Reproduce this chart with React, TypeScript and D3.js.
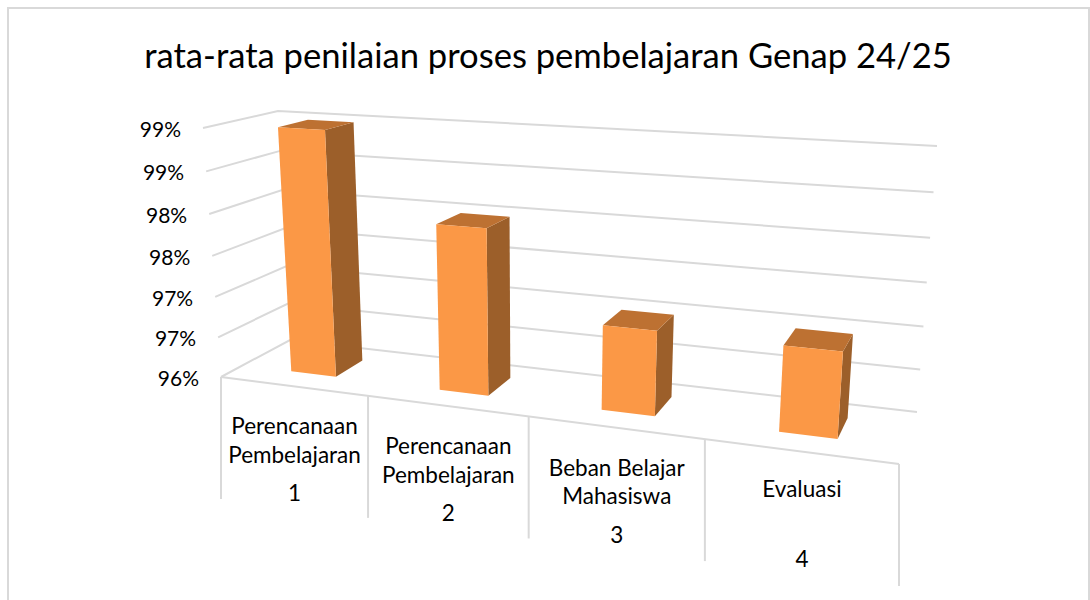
import React from 'react';
import * as d3 from 'd3';

const title = 'rata-rata penilaian proses pembelajaran Genap 24/25';
const categoryIds = ['1', '2', '3', '4'];
const categoryLines = [
  ['Perencanaan', 'Pembelajaran'],
  ['Perencanaan', 'Pembelajaran'],
  ['Beban Belajar', 'Mahasiswa'],
  ['Evaluasi'],
];
const values = [98.98, 97.98, 96.99, 96.97];
const tickValues = [96, 96.5, 97, 97.5, 98, 98.5, 99];
const tickLabels = ['96%', '97%', '97%', '98%', '98%', '99%', '99%'];

type Pt = [number, number];

// unit square -> quad, corners in order (0,0) (1,0) (1,1) (0,1)
function quadMap(p0: Pt, p1: Pt, p2: Pt, p3: Pt) {
  const sx = p0[0] - p1[0] + p2[0] - p3[0];
  const sy = p0[1] - p1[1] + p2[1] - p3[1];
  const dx1 = p1[0] - p2[0];
  const dy1 = p1[1] - p2[1];
  const dx2 = p3[0] - p2[0];
  const dy2 = p3[1] - p2[1];
  const den = dx1 * dy2 - dx2 * dy1;
  const g = (sx * dy2 - dx2 * sy) / den;
  const h = (dx1 * sy - sx * dy1) / den;
  const a = p1[0] - p0[0] + g * p1[0];
  const b = p3[0] - p0[0] + h * p3[0];
  const d = p1[1] - p0[1] + g * p1[1];
  const e = p3[1] - p0[1] + h * p3[1];
  return (u: number, v: number): Pt => {
    const w = g * u + h * v + 1;
    return [(a * u + b * v + p0[0]) / w, (d * u + e * v + p0[1]) / w];
  };
}

// the 3D box of the chart, floor and ceiling
const floorMap = quadMap([221, 377], [899, 464], [917, 412], [290, 340]);
const ceilMap = quadMap([203, 128], [921, 170.5], [937, 146], [278, 111]);

// height foreshortening, gridlines get wider apart towards the top
const heightWarp = 0.055;

// u along categories, v depth (0 front, 1 back), w height 0..1
const project = (u: number, v: number, w: number): Pt => {
  const f = floorMap(u, v);
  const c = ceilMap(u, v);
  const t = w / (1 + heightWarp * (1 - w));
  return [f[0] + (c[0] - f[0]) * t, f[1] + (c[1] - f[1]) * t];
};

const heightScale = d3.scaleLinear().domain([96, 99]).range([0, 1]);
const bandScale = d3
  .scaleBand<string>()
  .domain(categoryIds)
  .range([0, 1])
  .paddingInner(0.69)
  .paddingOuter(0.345);
const dividers = d3.range(categoryIds.length + 1).map((i) => i / categoryIds.length);

const depthFront = 0.3;
const depthBack = 0.72;
const dropLength = 122;

const line = d3.line<Pt>();
const poly = (pts: Pt[]) => line(pts) + 'Z';

const GRID = '#d9d9d9';
const FONT = 'Lato, Carlito, sans-serif';

export default function App() {
  return (
    <svg
      width={1090}
      height={600}
      style={{ position: 'absolute', left: 0, top: 0, background: '#fff' }}
    >
      <rect x={8} y={8} width={1081} height={620} fill="#fff" stroke={GRID} strokeWidth={2} />
      <text x={548} y={68} textAnchor="middle" fontFamily={FONT} fontSize={34.6} fill="#000">
        {title}
      </text>

      {tickValues.map((t, i) => {
        const w = heightScale(t);
        const a = project(0, 0, w);
        const b = project(0, 1, w);
        const c = project(1, 1, w);
        return (
          <g key={i}>
            <path d={line([a, b, c]) as string} fill="none" stroke={GRID} strokeWidth={2} />
            <text
              x={a[0] - 22}
              y={a[1] + 9}
              textAnchor="end"
              fontFamily={FONT}
              fontSize={21}
              fill="#000"
            >
              {tickLabels[i]}
            </text>
          </g>
        );
      })}

      <path d={line([project(0, 0, 0), project(1, 0, 0)]) as string} stroke={GRID} strokeWidth={2} fill="none" />
      {dividers.map((u, i) => {
        const p = project(u, 0, 0);
        return <line key={i} x1={p[0]} x2={p[0]} y1={p[1]} y2={p[1] + dropLength} stroke={GRID} strokeWidth={2} />;
      })}

      {values.map((val, i) => {
        const u0 = bandScale(categoryIds[i]) as number;
        const u1 = u0 + bandScale.bandwidth();
        const h = heightScale(val);
        const fbl = project(u0, depthFront, 0);
        const fbr = project(u1, depthFront, 0);
        const ftl = project(u0, depthFront, h);
        const ftr = project(u1, depthFront, h);
        const bbr = project(u1, depthBack, 0);
        const btr = project(u1, depthBack, h);
        const btl = project(u0, depthBack, h);
        return (
          <g key={i}>
            <path d={poly([fbr, bbr, btr, ftr])} fill="#9c5f2a" />
            <path d={poly([ftl, ftr, btr, btl])} fill="#bd7132" />
            <path d={poly([fbl, fbr, ftr, ftl])} fill="#fb9846" />
          </g>
        );
      })}

      {categoryIds.map((id, i) => {
        const a = project(dividers[i], 0, 0);
        const b = project(dividers[i + 1], 0, 0);
        const cx = (a[0] + b[0]) / 2;
        const cy = (a[1] + b[1]) / 2;
        const lines = categoryLines[i];
        const first = lines.length > 1 ? 48 : 45;
        return (
          <g key={id} fontFamily={FONT} fontSize={22.5} textAnchor="middle" fill="#000">
            {lines.map((l, j) => (
              <text key={j} x={cx} y={cy + first + j * 28.5}>
                {l}
              </text>
            ))}
            <text x={cx} y={cy + 115}>
              {id}
            </text>
          </g>
        );
      })}
    </svg>
  );
}
